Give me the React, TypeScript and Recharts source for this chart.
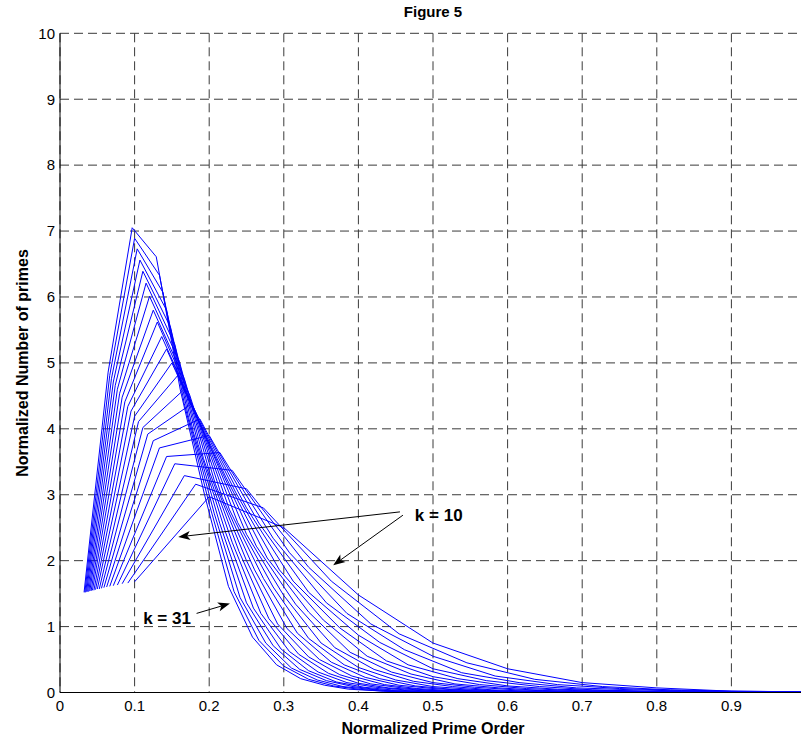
import React from 'react';
import {
  CartesianGrid,
  Line,
  LineChart,
  ReferenceDot,
  ReferenceLine,
  XAxis,
  YAxis,
} from 'recharts';

// normalized number of primes, one array per k (point j sits at x = j / k)
const k10 = [1.68, 2.97, 2.5, 1.48, 0.75, 0.36, 0.15, 0.07, 0.02, 0.01];
const k11 = [1.66, 3.16, 2.8, 1.69, 0.89, 0.45, 0.2, 0.09, 0.04, 0.02, 0.01];
const k12 = [1.65, 3.29, 3.09, 1.9, 1.04, 0.55, 0.25, 0.12, 0.06, 0.03, 0.01, 0.01];
const k13 = [1.63, 3.47, 3.37, 2.12, 1.2, 0.65, 0.3, 0.15, 0.07, 0.04, 0.02, 0.01, 0];
const k14 = [1.62, 3.58, 3.64, 2.34, 1.36, 0.76, 0.36, 0.18, 0.09, 0.04, 0.02, 0.01, 0.01, 0];
const k15 = [1.61, 3.71, 3.9, 2.57, 1.52, 0.87, 0.42, 0.21, 0.1, 0.05, 0.03, 0.01, 0.01, 0, 0];
const k16 = [1.6, 3.82, 4.15, 2.8, 1.69, 0.98, 0.48, 0.24, 0.12, 0.06, 0.03, 0.02, 0.01, 0, 0, 0];
const k17 = [1.59, 3.92, 4.38, 3.04, 1.86, 1.1, 0.55, 0.28, 0.13, 0.07, 0.03, 0.02, 0.01, 0, 0, 0, 0];
const k18 = [1.58, 4.02, 4.6, 3.27, 2.04, 1.22, 0.61, 0.31, 0.15, 0.08, 0.04, 0.02, 0.01, 0.01, 0, 0, 0, 0];
const k19 = [1.57, 4.11, 4.81, 3.51, 2.22, 1.34, 0.68, 0.35, 0.17, 0.09, 0.04, 0.02, 0.01, 0.01, 0, 0, 0, 0, 0];
const k20 = [1.57, 4.19, 5.0, 3.76, 2.4, 1.47, 0.75, 0.38, 0.19, 0.09, 0.05, 0.02, 0.01, 0.01, 0, 0, 0, 0, 0, 0];
const k21 = [1.56, 4.27, 5.21, 4.0, 2.58, 1.6, 0.82, 0.42, 0.21, 0.1, 0.05, 0.03, 0.01, 0.01, 0, 0, 0, 0, 0, 0, 0];
const k22 = [1.55, 4.34, 5.4, 4.25, 2.77, 1.73, 0.9, 0.46, 0.23, 0.11, 0.06, 0.03, 0.01, 0.01, 0, 0, 0, 0, 0, 0, 0, 0];
const k23 = [1.55, 4.41, 5.62, 4.51, 2.96, 1.86, 0.97, 0.5, 0.25, 0.12, 0.06, 0.03, 0.02, 0.01, 0, 0, 0, 0, 0, 0, 0, 0, 0];
const k24 = [1.54, 4.48, 5.8, 4.76, 3.16, 2.0, 1.04, 0.54, 0.27, 0.13, 0.07, 0.03, 0.02, 0.01, 0, 0, 0, 0, 0, 0, 0, 0, 0, 0];
const k25 = [1.54, 4.54, 6.01, 5.02, 3.36, 2.14, 1.12, 0.58, 0.29, 0.14, 0.07, 0.04, 0.02, 0.01, 0.01, 0, 0, 0, 0, 0, 0, 0, 0, 0, 0];
const k26 = [1.53, 4.6, 6.21, 5.28, 3.55, 2.28, 1.2, 0.62, 0.31, 0.15, 0.08, 0.04, 0.02, 0.01, 0.01, 0, 0, 0, 0, 0, 0, 0, 0, 0, 0, 0];
const k27 = [1.53, 4.66, 6.39, 5.54, 3.76, 2.42, 1.28, 0.66, 0.33, 0.16, 0.08, 0.04, 0.02, 0.01, 0.01, 0, 0, 0, 0, 0, 0, 0, 0, 0, 0, 0, 0];
const k28 = [1.53, 4.71, 6.56, 5.8, 3.96, 2.56, 1.36, 0.71, 0.35, 0.18, 0.09, 0.04, 0.02, 0.01, 0.01, 0, 0, 0, 0, 0, 0, 0, 0, 0, 0, 0, 0, 0];
const k29 = [1.52, 4.76, 6.73, 6.07, 4.17, 2.71, 1.44, 0.75, 0.37, 0.19, 0.09, 0.05, 0.02, 0.01, 0.01, 0, 0, 0, 0, 0, 0, 0, 0, 0, 0, 0, 0, 0, 0];
const k30 = [1.52, 4.81, 6.89, 6.33, 4.38, 2.86, 1.53, 0.79, 0.4, 0.2, 0.1, 0.05, 0.02, 0.01, 0.01, 0, 0, 0, 0, 0, 0, 0, 0, 0, 0, 0, 0, 0, 0, 0];
const k31 = [1.52, 4.86, 7.05, 6.61, 4.59, 3.01, 1.61, 0.84, 0.42, 0.21, 0.11, 0.05, 0.03, 0.01, 0.01, 0, 0, 0, 0, 0, 0, 0, 0, 0, 0, 0, 0, 0, 0, 0, 0];

const curves = [k10, k11, k12, k13, k14, k15, k16, k17, k18, k19, k20, k21, k22, k23, k24, k25, k26, k27, k28, k29, k30, k31];

// the tick at 1 falls just past the right edge of the picture
const xTicks = [0, 0.1, 0.2, 0.3, 0.4, 0.5, 0.6, 0.7, 0.8, 0.9];
const yTicks = [0, 1, 2, 3, 4, 5, 6, 7, 8, 9, 10];

const font = '"Liberation Sans", Arial, Helvetica, sans-serif';

const Arrow = (props: any) => {
  const { x1, y1, x2, y2 } = props;
  const ang = Math.atan2(y2 - y1, x2 - x1);
  const len = 12;
  const half = 4.5;
  const bx = x2 - len * Math.cos(ang);
  const by = y2 - len * Math.sin(ang);
  const nx = x2 - (len - 3) * Math.cos(ang);
  const ny = y2 - (len - 3) * Math.sin(ang);
  const px = -Math.sin(ang) * half;
  const py = Math.cos(ang) * half;
  return (
    <g>
      <line x1={x1} y1={y1} x2={nx} y2={ny} stroke="#000" strokeWidth={1} />
      <polygon
        points={`${x2},${y2} ${bx + px},${by + py} ${nx},${ny} ${bx - px},${by - py}`}
        fill="#000"
      />
    </g>
  );
};

const noteText = (label: string) => (p: any) => (
  <text
    x={p.cx}
    y={p.cy}
    fontFamily={font}
    fontWeight="bold"
    fontSize={17}
    dominantBaseline="central"
    fill="#000"
  >
    {label}
  </text>
);

export default function App() {
  return (
    <div
      style={{
        position: 'fixed',
        left: 0,
        top: 0,
        width: 801,
        height: 742,
        overflow: 'hidden',
        background: '#fff',
      }}
    >
      <LineChart width={830} height={742} margin={{ top: 33.3, right: 24, left: 10, bottom: 19.5 }}>
        <CartesianGrid stroke="#3a3a3a" strokeDasharray="9 5" />
        <XAxis
          type="number"
          dataKey="x"
          domain={[0, 1]}
          ticks={xTicks}
          allowDataOverflow
          height={30}
          tickSize={0}
          tickMargin={8}
          axisLine={{ stroke: '#000' }}
          tick={{ fill: '#000', fontSize: 15, fontFamily: font }}
        />
        <YAxis
          type="number"
          domain={[0, 10]}
          ticks={yTicks}
          width={50}
          tickSize={0}
          tickMargin={5}
          axisLine={{ stroke: '#000' }}
          tick={{ fill: '#000', fontSize: 15, fontFamily: font }}
        />
        {curves.map((vals, i) => (
          <Line
            key={'k' + (i + 10)}
            name={'k = ' + (i + 10)}
            data={vals.map((y, j) => ({ x: (j + 1) / vals.length, y }))}
            dataKey="y"
            type="linear"
            stroke="#0000ff"
            strokeWidth={1}
            dot={false}
            isAnimationActive={false}
          />
        ))}
        <ReferenceLine segment={[{ x: 0.4557, y: 2.74 }, { x: 0.1585, y: 2.36 }]} shape={Arrow} />
        <ReferenceLine segment={[{ x: 0.4597, y: 2.69 }, { x: 0.3662, y: 1.93 }]} shape={Arrow} />
        <ReferenceLine segment={[{ x: 0.1831, y: 1.2 }, { x: 0.2278, y: 1.35 }]} shape={Arrow} />
        <ReferenceDot x={0.4757} y={2.69} r={0} shape={noteText('k = 10')} />
        <ReferenceDot x={0.1115} y={1.115} r={0} shape={noteText('k = 31')} />
      </LineChart>
      <svg
        width={801}
        height={742}
        style={{ position: 'absolute', left: 0, top: 0, pointerEvents: 'none' }}
      >
        <text x={433} y={11} textAnchor="middle" dominantBaseline="central" fontFamily={font} fontWeight="bold" fontSize={15}>
          Figure 5
        </text>
        <text x={433} y={728} textAnchor="middle" dominantBaseline="central" fontFamily={font} fontWeight="bold" fontSize={16}>
          Normalized Prime Order
        </text>
        <text
          x={22}
          y={363}
          textAnchor="middle"
          dominantBaseline="central"
          fontFamily={font}
          fontWeight="bold"
          fontSize={16}
          transform="rotate(-90 22 363)"
        >
          Normalized Number of primes
        </text>
      </svg>
    </div>
  );
}
